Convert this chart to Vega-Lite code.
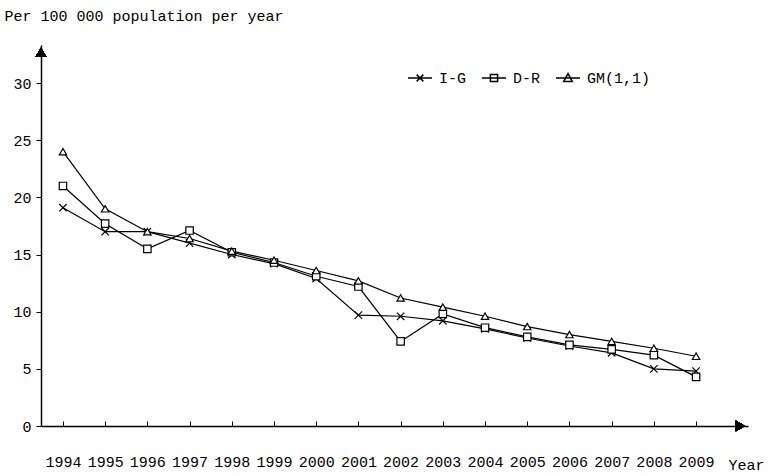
{
  "$schema": "https://vega.github.io/schema/vega-lite/v6.json",
  "autosize": "none",
  "width": 707,
  "height": 381,
  "padding": {"left": 41, "top": 45, "right": 24, "bottom": 50},
  "background": "white",
  "config": {
    "view": {"stroke": null},
    "font": "Liberation Mono",
    "axis": {"labelFont": "Liberation Mono", "titleFont": "Liberation Mono", "labelColor": "black", "titleColor": "black", "domainColor": "black", "tickColor": "black", "grid": false, "titleFontWeight": "normal"},
    "legend": {"labelFont": "Liberation Mono", "labelColor": "black"}
  },
  "data": {"values": [
    {"year": 1994, "series": "I-G", "value": 19.1},
    {"year": 1995, "series": "I-G", "value": 17.0},
    {"year": 1996, "series": "I-G", "value": 17.0},
    {"year": 1997, "series": "I-G", "value": 16.0},
    {"year": 1998, "series": "I-G", "value": 15.0},
    {"year": 1999, "series": "I-G", "value": 14.2},
    {"year": 2000, "series": "I-G", "value": 12.9},
    {"year": 2001, "series": "I-G", "value": 9.7},
    {"year": 2002, "series": "I-G", "value": 9.6},
    {"year": 2003, "series": "I-G", "value": 9.2},
    {"year": 2004, "series": "I-G", "value": 8.5},
    {"year": 2005, "series": "I-G", "value": 7.7},
    {"year": 2006, "series": "I-G", "value": 7.0},
    {"year": 2007, "series": "I-G", "value": 6.4},
    {"year": 2008, "series": "I-G", "value": 5.0},
    {"year": 2009, "series": "I-G", "value": 4.8},
    {"year": 1994, "series": "D-R", "value": 21.0},
    {"year": 1995, "series": "D-R", "value": 17.7},
    {"year": 1996, "series": "D-R", "value": 15.5},
    {"year": 1997, "series": "D-R", "value": 17.1},
    {"year": 1998, "series": "D-R", "value": 15.2},
    {"year": 1999, "series": "D-R", "value": 14.3},
    {"year": 2000, "series": "D-R", "value": 13.1},
    {"year": 2001, "series": "D-R", "value": 12.2},
    {"year": 2002, "series": "D-R", "value": 7.4},
    {"year": 2003, "series": "D-R", "value": 9.8},
    {"year": 2004, "series": "D-R", "value": 8.6},
    {"year": 2005, "series": "D-R", "value": 7.8},
    {"year": 2006, "series": "D-R", "value": 7.1},
    {"year": 2007, "series": "D-R", "value": 6.7},
    {"year": 2008, "series": "D-R", "value": 6.2},
    {"year": 2009, "series": "D-R", "value": 4.3},
    {"year": 1994, "series": "GM(1,1)", "value": 24.0},
    {"year": 1995, "series": "GM(1,1)", "value": 19.0},
    {"year": 1996, "series": "GM(1,1)", "value": 17.0},
    {"year": 1997, "series": "GM(1,1)", "value": 16.4},
    {"year": 1998, "series": "GM(1,1)", "value": 15.3},
    {"year": 1999, "series": "GM(1,1)", "value": 14.5},
    {"year": 2000, "series": "GM(1,1)", "value": 13.6},
    {"year": 2001, "series": "GM(1,1)", "value": 12.7},
    {"year": 2002, "series": "GM(1,1)", "value": 11.2},
    {"year": 2003, "series": "GM(1,1)", "value": 10.4},
    {"year": 2004, "series": "GM(1,1)", "value": 9.6},
    {"year": 2005, "series": "GM(1,1)", "value": 8.7},
    {"year": 2006, "series": "GM(1,1)", "value": 8.0},
    {"year": 2007, "series": "GM(1,1)", "value": 7.4},
    {"year": 2008, "series": "GM(1,1)", "value": 6.8},
    {"year": 2009, "series": "GM(1,1)", "value": 6.1}
  ]},
  "encoding": {
    "x": {
      "field": "year", "type": "quantitative",
      "scale": {"domain": [1993.48, 2010.23], "nice": false, "zero": false},
      "axis": {
        "title": "Year", "values": [1994,1995,1996,1997,1998,1999,2000,2001,2002,2003,2004,2005,2006,2007,2008,2009],
        "format": "d", "labelFontSize": 15, "labelPadding": 33, "tickSize": -5, "domainWidth": 1.5, "tickWidth": 1,
        "labelFlush": false, "labelOverlap": false,
        "titleFontSize": 15, "titleAnchor": "start", "titleAlign": "left", "titleBaseline": "middle", "titleX": 687, "titleY": 38
      }
    },
    "y": {
      "field": "value", "type": "quantitative",
      "scale": {"domain": [0, 33.33], "nice": false},
      "axis": {
        "title": "Per 100 000 population per year", "values": [0,5,10,15,20,25,30],
        "labelFontSize": 15, "labelPadding": 5, "tickSize": 5, "domainWidth": 1.5,
        "titleFontSize": 15, "titleAngle": 0, "titleAlign": "left", "titleBaseline": "middle", "titleX": -37, "titleY": -30
      }
    }
  },
  "layer": [
    {
      "mark": {"type": "line", "strokeWidth": 1.2, "color": "black"},
      "encoding": {"detail": {"field": "series"}}
    },
    {
      "transform": [{"filter": "datum.year < 0"}],
      "mark": {"type": "point", "filled": false, "fill": "white", "fillOpacity": 1, "stroke": "black", "strokeWidth": 1.2, "opacity": 1},
      "encoding": {
        "shape": {
          "field": "series", "type": "nominal",
          "scale": {"domain": ["I-G", "D-R", "GM(1,1)"], "range": [
            "M-1,0H1M-0.28,-0.28L0.28,0.28M-0.28,0.28L0.28,-0.28",
            "M-1,0H1M-0.3,-0.3H0.3V0.3H-0.3Z",
            "M-1,0H1M0,-0.36L0.36,0.3H-0.36Z"
          ]},
          "legend": {
            "title": null, "orient": "none", "direction": "horizontal", "legendX": 366, "legendY": 20,
            "labelFontSize": 15, "symbolSize": 576, "labelOffset": 6, "columnPadding": 12
          }
        }
      }
    },
    {
      "mark": {"type": "point", "filled": false, "fill": "white", "fillOpacity": 1, "stroke": "black", "strokeWidth": 1.2, "opacity": 1},
      "encoding": {
        "shape": {
          "field": "series", "type": "nominal",
          "scale": {"domain": ["I-G", "D-R", "GM(1,1)"], "range": ["M-1,-1L1,1M-1,1L1,-1", "square", "triangle-up"]},
          "legend": null
        },
        "size": {"value": 55}
      }
    },
    {
      "mark": {"type": "point", "shape": "triangle-up", "filled": true, "color": "black", "size": 110, "opacity": 1},
      "encoding": {"x": {"datum": 1993.48, "type": "quantitative"}, "y": {"datum": 32.7, "type": "quantitative"}}
    },
    {
      "mark": {"type": "point", "shape": "triangle-right", "filled": true, "color": "black", "size": 110, "opacity": 1},
      "encoding": {"x": {"datum": 2010.05, "type": "quantitative"}, "y": {"datum": 0, "type": "quantitative"}}
    }
  ],
  "resolve": {"scale": {"shape": "independent"}, "legend": {"shape": "independent"}}
}
